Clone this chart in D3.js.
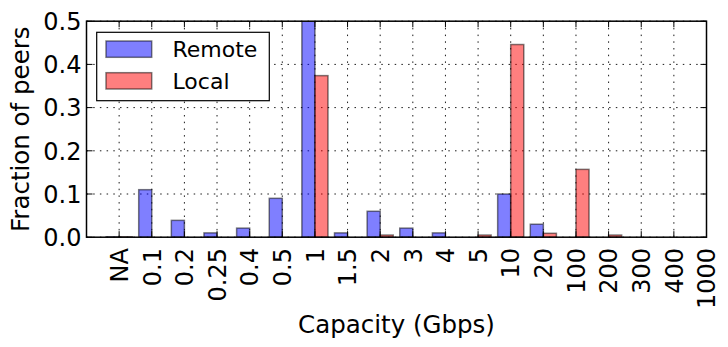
<!DOCTYPE html>
<html><head><meta charset="utf-8">
<script src="https://cdn.jsdelivr.net/npm/d3@7"></script>
<style>
html,body{margin:0;padding:0;background:#fff;}
svg{display:block;font-family:"DejaVu Sans",sans-serif;}
</style></head>
<body><svg id="c" width="728" height="347"></svg>
<script>
const categories = ["NA","0.1","0.2","0.25","0.4","0.5","1","1.5","2","3","4","5","10","20","100","200","300","400","1000"];
const remote = [0.001,0.11,0.039,0.01,0.021,0.09,0.52,0.01,0.06,0.021,0.01,0,0.1,0.03,0,0,0,0,0];
const local  = [0.001,0,0,0,0,0,0.374,0,0.005,0,0,0.005,0.446,0.009,0.157,0.005,0,0,0];
const yTicks = [0,0.1,0.2,0.3,0.4,0.5];
const seriesNames = ["Remote","Local"];
const seriesColors = ["#0000ff","#ff0000"];

const svg = d3.select("#c");
const L = 86.5, R = 706.5, T = 21.2, B = 237.2;
const x = d3.scaleLinear().domain([-1, categories.length - 1]).range([L, R]);
const y = d3.scaleLinear().domain([0, 0.5]).range([B, T]);
const bw = 0.4;
const tickFont = 24;

svg.append("defs").append("clipPath").attr("id","clip")
  .append("rect").attr("x",L).attr("y",T).attr("width",R-L).attr("height",B-T);

// grid
const g = svg.append("g");
g.selectAll(".vg").data(categories).join("line")
  .attr("x1",(d,i)=>x(i)).attr("x2",(d,i)=>x(i)).attr("y1",T).attr("y2",B)
  .attr("stroke","#000").attr("stroke-width",0.9).attr("stroke-dasharray","1.5,5.2");
g.selectAll(".hg").data(yTicks).join("line")
  .attr("x1",L).attr("x2",R).attr("y1",d=>y(d)).attr("y2",d=>y(d))
  .attr("stroke","#000").attr("stroke-width",0.9).attr("stroke-dasharray","1.5,5.2");

// bars
const bars = svg.append("g").attr("clip-path","url(#clip)");
[remote, local].forEach((vals, s) => {
  bars.selectAll(".b"+s).data(vals).join("rect")
    .attr("x",(d,i)=>x(i - bw + s*bw))
    .attr("width",x(bw)-x(0))
    .attr("y",d=>y(d))
    .attr("height",d=>y(0)-y(d))
    .attr("fill",seriesColors[s]).attr("fill-opacity",0.5)
    .attr("stroke","#000").attr("stroke-opacity",0.5).attr("stroke-width",1.5);
});

// ticks (inside, all four sides)
const tk = 6;
const tg = svg.append("g").attr("stroke","#000").attr("stroke-width",1);
categories.forEach((c,i)=>{
  tg.append("line").attr("x1",x(i)).attr("x2",x(i)).attr("y1",B).attr("y2",B-tk);
  tg.append("line").attr("x1",x(i)).attr("x2",x(i)).attr("y1",T).attr("y2",T+tk);
});
yTicks.forEach(v=>{
  tg.append("line").attr("x1",L).attr("x2",L+tk).attr("y1",y(v)).attr("y2",y(v));
  tg.append("line").attr("x1",R).attr("x2",R-tk).attr("y1",y(v)).attr("y2",y(v));
});

// frame
svg.append("rect").attr("x",L).attr("y",T).attr("width",R-L).attr("height",B-T)
  .attr("fill","none").attr("stroke","#000").attr("stroke-width",1.5);

// tick labels
svg.append("g").selectAll("text").data(yTicks).join("text")
  .attr("x",L-5).attr("y",d=>y(d)).attr("dy","0.3645em")
  .attr("text-anchor","end").attr("font-size",tickFont).attr("fill","#000")
  .text(d=>d.toFixed(1));
svg.append("g").selectAll("text").data(categories).join("text")
  .attr("transform",(d,i)=>`translate(${x(i)},248) rotate(-90)`)
  .attr("dy","0.3645em").attr("text-anchor","end").attr("font-size",tickFont).attr("fill","#000")
  .text(d=>d);

// axis labels
svg.append("text").attr("x",(L+R)/2).attr("y",333).attr("text-anchor","middle")
  .attr("font-size",24.5).attr("fill","#000").text("Capacity (Gbps)");
svg.append("text").attr("transform",`translate(28.5,${(T+B)/2}) rotate(-90)`)
  .attr("text-anchor","middle").attr("font-size",24.5).attr("fill","#000").text("Fraction of peers");

// legend
const lg = svg.append("g");
lg.append("rect").attr("x",96.7).attr("y",32.3).attr("width",172.6).attr("height",68.4)
  .attr("fill","#fff").attr("stroke","#000").attr("stroke-width",1.2);
seriesNames.forEach((n,s)=>{
  const py = 41 + s*31.7;
  lg.append("rect").attr("x",106).attr("y",py).attr("width",45.7).attr("height",16.3)
    .attr("fill",seriesColors[s]).attr("fill-opacity",0.5)
    .attr("stroke","#000").attr("stroke-opacity",0.5).attr("stroke-width",1.5);
  lg.append("text").attr("x",172.5).attr("y",py+16.3).attr("font-size",22).attr("fill","#000").text(n);
});
</script></body></html>
